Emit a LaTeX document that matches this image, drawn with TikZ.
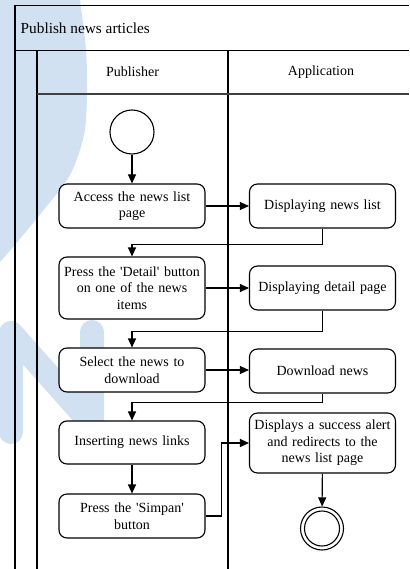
\documentclass[tikz,border=0pt]{standalone}
\usepackage{fontspec}
\setmainfont{Liberation Serif}[Ligatures=TeXOff]
\usetikzlibrary{arrows.meta}
\definecolor{wmblue}{RGB}{209,225,242}
\tikzset{
  lane/.style={line width=1.1pt, draw=black},
  lbl/.style={inner sep=0pt, font=\fontsize{14}{16.5}\selectfont},
  act/.style={draw, line width=1.1pt, fill=white, rounded corners=8pt,
    text width=146pt, align=center, inner sep=0pt,
    font=\fontsize{14}{16.5}\selectfont},
  initial/.style={circle, draw, line width=1.1pt, minimum size=44pt, inner sep=0pt},
  final/.style={circle, draw, line width=1.1pt, inner sep=0pt},
  flow/.style={line width=1.1pt, -{Triangle[length=9pt,width=8pt]}},
}
\begin{document}
\begin{tikzpicture}[x=1pt,y=-1pt]
\useasboundingbox (0,0) rectangle (409,569);
\fill[white] (0,0) rectangle (409,569);

% watermark shapes
\fill[wmblue] (0,0) -- plot[smooth] coordinates {(80,0) (86,50) (87,95) (84,135) (70,175) (42,212) (14,246) (0,262)} -- cycle;
\draw[wmblue, line width=24pt, line cap=round, line join=round]
  (11,432) -- (11,333) -- (92,424) -- (92,332);

% swimlane frame
\draw[lane] (409,5.5) -- (15,5.5) -- (15,569);
\draw[lane] (15,50.5) -- (409,50.5);
\draw[lane] (37,50.5) -- (37,569);
\draw[lane] (228,50.5) -- (228,569);
\draw[lane, draw=black!75] (37,94) -- (409,94);

\node[lbl, anchor=west, font=\fontsize{15.3}{18}\selectfont] (title) at (20.5,28) {Publish news articles};
\node[lbl] (pubhead) at (132.5,72) {Publisher};
\node[lbl] (apphead) at (321,72) {Application};

% activities
\node[initial] (start) at (132,132) {};
\node[act, minimum height=44pt] (a1) at (132,206) {Access the news list\\page};
\node[act, minimum height=44pt] (b1) at (322.5,206) {Displaying news list};
\node[act, minimum height=62pt] (a2) at (132,288) {Press the 'Detail' button\\on one of the news\\items};
\node[act, minimum height=44pt] (b2) at (322.5,288) {Displaying detail page};
\node[act, minimum height=44pt] (a3) at (132,370) {Select the news to\\download};
\node[act, minimum height=44pt] (b3) at (322.5,371) {Download news};
\node[act, minimum height=43pt] (a4) at (132,442.5) {Inserting news links};
\node[act, minimum height=44pt] (a5) at (132,516) {Press the 'Simpan'\\button};
\node[act, minimum height=60pt] (b4) at (322.5,443) {Displays a success alert\\and redirects to the\\news list page};
\node[final, minimum size=43pt] (end) at (322,528.5) {};
\node[final, minimum size=35pt] (endin) at (end) {};

% control flow
\draw[flow] (start) -- (a1);
\draw[flow] (a1.east) -- (b1.west);
\draw[flow] (b1.south) -- ++(0,16) -| (a2.north);
\draw[flow] (a2.east) -- (b2.west);
\draw[flow] (b2.south) -- ++(0,21) -| (a3.north);
\draw[flow] (a3.east) -- (a3.east -| b3.west);
\draw[flow] (b3.south) -- ++(0,9) -| (a4.north);
\draw[flow] (a4) -- (a5);
\draw[flow] (a5.east) -- ++(16,0) |- (b4.west);
\draw[flow] (b4) -- (end);
\end{tikzpicture}
\end{document}
